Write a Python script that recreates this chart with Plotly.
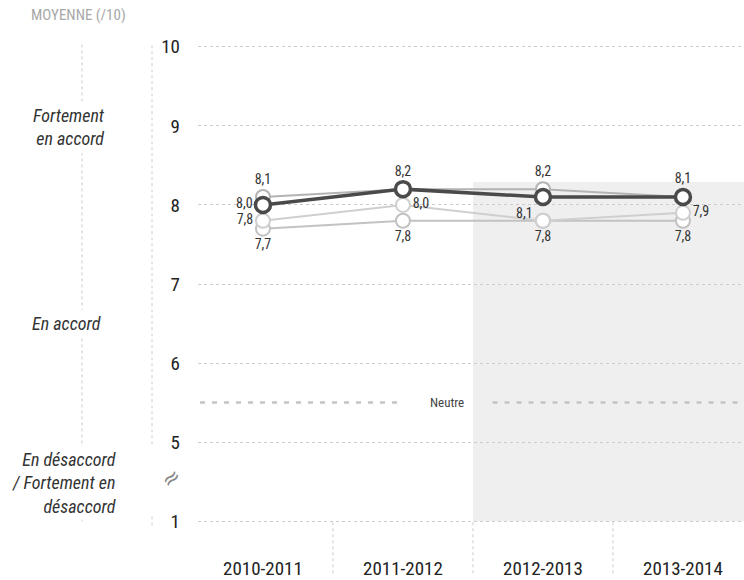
import plotly.graph_objects as go

# Seasons and average scores (out of 10)
seasons = ["2010-2011", "2011-2012", "2012-2013", "2013-2014"]
serie_haute = [8.1, 8.2, 8.2, 8.1]
serie_moyenne = [7.8, 8.0, 7.8, 7.9]
serie_basse = [7.7, 7.8, 7.8, 7.8]
serie_principale = [8.0, 8.2, 8.1, 8.1]

# Broken y axis: the "1" level is drawn where 4 would be
ytick_vals = [4, 5, 6, 7, 8, 9, 10]
ytick_text = ["1", "5", "6", "7", "8", "9", "10"]
neutre = 5.5
zone_grisee_haut = 8.29

# Which point labels are shown, and where
pos_haute = ["top center", "top center", "top center", None]
pos_moyenne = ["middle left", "middle right", None, "middle right"]
pos_basse = ["bottom center", "bottom center", "bottom center", "bottom center"]
pos_principale = ["middle left", None, "bottom left", "top center"]

W, H = 744, 580
FONT = "Roboto Condensed, Liberation Sans Narrow, Roboto, sans-serif"


def fmt(v):
    return f"{v:.1f}".replace(".", ",")


def labels(values, positions):
    text = [fmt(v) if p else "" for v, p in zip(values, positions)]
    tpos = [p if p else "top center" for p in positions]
    return text, tpos


fig = go.Figure()

series = [
    (serie_basse, pos_basse, "#c2c2c2", 2, 14),
    (serie_moyenne, pos_moyenne, "#cfcfcf", 2, 14),
    (serie_haute, pos_haute, "#b3b3b3", 2, 14),
    (serie_principale, pos_principale, "#4a4a4a", 3.5, 15),
]
for vals, pos, color, lw, ms in series:
    text, tpos = labels(vals, pos)
    fig.add_trace(go.Scatter(
        x=seasons, y=vals, mode="lines+markers+text",
        line=dict(color=color, width=lw),
        marker=dict(symbol="circle", size=ms, color="white",
                    line=dict(color=color, width=lw)),
        text=text, textposition=tpos,
        textfont=dict(family=FONT, size=14, color="#333333"),
        cliponaxis=False, hoverinfo="skip", showlegend=False,
    ))

shapes = []
# shaded zone behind the last two seasons
shapes.append(dict(type="rect", xref="x", yref="y", x0=1.5, x1=3.6,
                   y0=4, y1=zone_grisee_haut, fillcolor="#efefef",
                   line=dict(width=0), layer="below"))
# neutral reference line, interrupted around its label
for x0, x1 in [(-0.45, 0.99), (1.64, 3.6)]:
    shapes.append(dict(type="line", xref="x", yref="y", x0=x0, x1=x1,
                       y0=neutre, y1=neutre,
                       line=dict(color="#c4c4c4", width=2.5, dash="5px,7px"),
                       layer="below"))
# season separators below the plot
for xb in [0.5, 1.5, 2.5]:
    shapes.append(dict(type="line", xref="x", yref="paper", x0=xb, x1=xb,
                       y0=0.029, y1=-0.075,
                       line=dict(color="#cccccc", width=1, dash="dot")))
# broken vertical axis line
for y0, y1 in [(10.02, 4.95), (4.06, 3.93)]:
    shapes.append(dict(type="line", xref="paper", yref="y",
                       x0=152 / W, x1=152 / W, y0=y0, y1=y1,
                       line=dict(color="#cccccc", width=1, dash="dot")))
# bracket line for the agreement labels
shapes.append(dict(type="line", xref="paper", yref="y",
                   x0=82 / W, x1=82 / W, y0=10.03, y1=3.96,
                   line=dict(color="#cccccc", width=1, dash="dot")))

annotations = [
    dict(text="MOYENNE (/10)", xref="paper", yref="paper", x=29 / W, y=1.031,
         xanchor="left", yanchor="middle", showarrow=False,
         font=dict(family=FONT, size=15, color="#a8a8a8")),
    dict(text="Neutre", xref="x", yref="y", x=1.318, y=neutre,
         showarrow=False, font=dict(family=FONT, size=13, color="#444444")),
    dict(text="<i>Fortement<br>en accord</i>", xref="paper", yref="y",
         x=109 / W, y=8.99, xanchor="right", align="right", showarrow=False,
         bgcolor="white", borderpad=3,
         font=dict(family=FONT, size=18, color="#333333")),
    dict(text="<i>En accord</i>", xref="paper", yref="y",
         x=105 / W, y=6.5, xanchor="right", align="right", showarrow=False,
         bgcolor="white", borderpad=3,
         font=dict(family=FONT, size=18, color="#333333")),
    dict(text="<i>En désaccord<br>/ Fortement en<br>désaccord</i>",
         xref="paper", yref="y", x=119 / W, y=4.48, xanchor="right",
         align="right", showarrow=False, bgcolor="white", borderpad=2,
         font=dict(family=FONT, size=18, color="#333333")),
    dict(text="≈", xref="paper", yref="y", x=153 / W, y=4.54,
         showarrow=False, textangle=-40,
         font=dict(family="DejaVu Sans", size=22, color="#888888")),
]

fig.update_layout(
    width=W, height=H,
    margin=dict(l=0, r=0, t=31, b=37),
    paper_bgcolor="white", plot_bgcolor="white",
    font=dict(family=FONT, color="#333333"),
    shapes=shapes, annotations=annotations,
    xaxis=dict(domain=[198 / W, 1], type="category",
               range=[-0.464, 3.436], showgrid=False, zeroline=False,
               showline=False, ticks="", ticklabelstandoff=18,
               tickfont=dict(family=FONT, size=19, color="#222222")),
    yaxis=dict(range=[3.8, 10.2], tickvals=ytick_vals, ticktext=ytick_text,
               showgrid=True, gridcolor="#cccccc", griddash="dot",
               gridwidth=1, zeroline=False, showline=False, ticks="",
               ticklabelstandoff=17,
               tickfont=dict(family=FONT, size=19, color="#222222")),
    yaxis2=dict(overlaying="y", anchor="free", position=152 / W, side="left",
                range=[3.8, 10.2], tickvals=ytick_vals, ticks="outside",
                ticklen=17, tickcolor="#d8d8d8", tickwidth=1,
                showticklabels=False, showgrid=False, zeroline=False,
                showline=False),
)

fig.write_html("out.html")
